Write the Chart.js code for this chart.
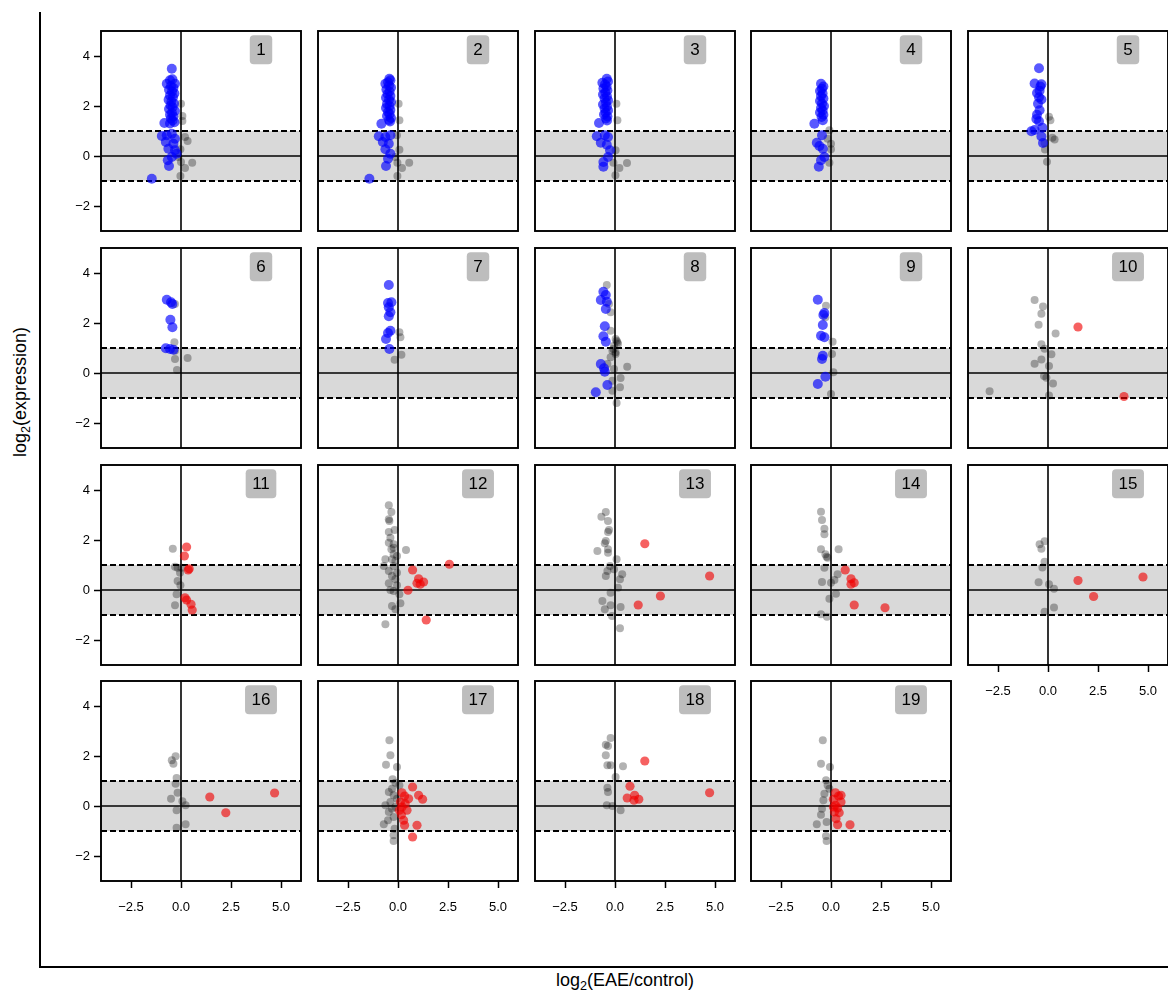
<!DOCTYPE html>
<html>
<head>
<meta charset="utf-8">
<script src="https://cdn.jsdelivr.net/npm/chart.js@4.4.1/dist/chart.umd.min.js"></script>
<style>
  html, body { margin: 0; padding: 0; background: #fff; overflow: hidden; }
  #fig { position: relative; width: 1168px; height: 990px; overflow: hidden; background: #fff;
         font-family: "Liberation Sans", Arial, Helvetica, sans-serif; color: #000; }
  #fig canvas { position: absolute; }
  .outer { position: absolute; left: 39px; top: 12px; width: 1200px; height: 956px;
           border-left: 2px solid #000; border-bottom: 2px solid #000; box-sizing: border-box; }
  .title { position: absolute; font-size: 18px; white-space: nowrap; line-height: 1; }
  .title sub { font-size: 0.7em; vertical-align: -0.3em; line-height: 0; }
  .ytitle { left: 20px; top: 392px; transform: translate(-50%, -50%) rotate(-90deg); }
  .xtitle { left: 625px; top: 980px; transform: translate(-50%, -50%); }
</style>
</head>
<body>
<div id="fig">
  <div class="outer"></div>
  <div class="title ytitle">log<sub>2</sub>(expression)</div>
  <div class="title xtitle">log<sub>2</sub>(EAE/control)</div>
</div>
<script>
// Axis ranges and ticks shared by every panel
const X_RANGE = [-4, 6];
const Y_RANGE = [-3, 5];
const X_TICKS = [-2.5, 0, 2.5, 5];
const X_TICK_LABELS = ['\u22122.5', '0.0', '2.5', '5.0'];
const Y_TICKS = [-2, 0, 2, 4];
const Y_TICK_LABELS = ['\u22122', '0', '2', '4'];
const BAND = [-1, 1];
const PANEL_LABELS = ['1','2','3','4','5','6','7','8','9','10','11','12','13','14','15','16','17','18','19'];

// Points per panel: [log2(EAE/control), log2(expression)]
const P1_BLUE = [[-0.46,3.49],[-0.55,3.03],[-0.43,3.07],[-0.71,2.89],[-0.3,2.89],[-0.5,2.8],[-0.38,2.72],[-0.6,2.65],[-0.45,2.58],[-0.33,2.5],[-0.55,2.42],[-0.4,2.35],[-0.62,2.25],[-0.48,2.18],[-0.35,2.1],[-0.52,2.02],[-0.42,1.95],[-0.6,1.88],[-0.3,1.8],[-0.45,1.72],[-0.55,1.65],[-0.38,1.58],[-0.5,1.5],[-0.42,1.42],[-0.33,1.35],[-0.55,1.3],[-0.83,1.32],[-0.96,0.8],[-0.71,0.83],[-0.46,0.89],[-0.3,0.69],[-0.76,0.56],[-0.38,0.49],[-0.63,0.29],[-0.3,0.23],[-0.46,-0.04],[-0.66,-0.17],[-0.6,-0.4],[-1.46,-0.91],[-0.22,0.09]];
const P1_GRAY = [[0,2.09],[0.07,1.6],[0.07,1.4],[0.2,0.76],[0.33,0.6],[-0.03,0.27],[0,-0.24],[0.56,-0.27],[0.2,-0.48],[-0.03,-0.8],[-0.13,-0.04]];

const P2_BLUE = [[-0.43,3.09],[-0.63,2.89],[-0.38,3.03],[-0.5,2.95],[-0.45,2.82],[-0.35,2.74],[-0.58,2.66],[-0.42,2.58],[-0.52,2.48],[-0.38,2.4],[-0.6,2.33],[-0.45,2.25],[-0.35,2.16],[-0.55,2.08],[-0.42,2.0],[-0.6,1.92],[-0.38,1.84],[-0.5,1.76],[-0.42,1.68],[-0.55,1.6],[-0.35,1.52],[-0.45,1.44],[-0.4,1.38],[-0.83,1.29],[-0.96,0.79],[-0.63,0.76],[-0.38,0.83],[-0.76,0.56],[-0.46,0.49],[-0.63,0.27],[-0.38,0.09],[-0.5,-0.11],[-0.6,-0.4],[-1.43,-0.91]];
const P2_GRAY = [[0.03,2.09],[0.07,1.43],[-0.05,0.83],[0.07,0.25],[-0.03,-0.27],[0.2,-0.48],[0.56,-0.27],[-0.03,-0.8],[-0.13,-0.04]];

const P3_BLUE = [[-0.41,3.09],[-0.63,2.93],[-0.35,2.98],[-0.5,2.86],[-0.42,2.78],[-0.58,2.7],[-0.38,2.62],[-0.48,2.54],[-0.6,2.46],[-0.4,2.38],[-0.52,2.3],[-0.35,2.22],[-0.45,2.14],[-0.6,2.06],[-0.4,1.98],[-0.52,1.9],[-0.35,1.82],[-0.47,1.74],[-0.55,1.66],[-0.38,1.58],[-0.45,1.5],[-0.4,1.42],[-0.8,1.32],[-0.91,0.79],[-0.51,0.83],[-0.35,0.76],[-0.71,0.53],[-0.41,0.45],[-0.25,0.23],[-0.35,-0.04],[-0.58,-0.24],[-0.58,-0.43]];
const P3_GRAY = [[0.07,2.09],[0.12,1.43],[0.03,0.23],[-0.08,-0.27],[0.22,-0.48],[0.6,-0.28],[0.02,-0.77]];

const P4_BLUE = [[-0.5,2.89],[-0.45,2.69],[-0.38,2.78],[-0.55,2.6],[-0.42,2.5],[-0.5,2.4],[-0.38,2.3],[-0.55,2.2],[-0.45,2.1],[-0.35,2.0],[-0.5,1.92],[-0.42,1.82],[-0.55,1.74],[-0.38,1.65],[-0.47,1.56],[-0.83,1.29],[-0.41,1.43],[-0.45,0.83],[-0.71,0.53],[-0.58,0.4],[-0.41,0.29],[-0.33,-0.04],[-0.5,-0.17],[-0.61,-0.43]];
const P4_GRAY = [[-0.08,1.03],[0,0.49],[0,0.27],[-0.08,-0.27],[-0.17,0.69]];

const P5_BLUE = [[-0.45,3.51],[-0.67,2.9],[-0.33,2.87],[-0.42,2.61],[-0.45,2.35],[-0.5,2.09],[-0.42,1.83],[-0.55,1.65],[-0.45,1.39],[-0.67,1.04],[-0.83,0.99],[-0.28,1.13],[-0.33,0.78],[-0.25,0.52],[-0.38,2.78],[-0.55,2.52],[-0.33,2.26],[-0.58,1.48]];
const P5_GRAY = [[0.05,1.57],[0.12,1.43],[0.33,0.66],[0.22,0.73],[-0.15,0.26],[-0.05,-0.23],[-0.17,0.52]];

const P6_BLUE = [[-0.71,2.93],[-0.5,2.83],[-0.43,2.76],[-0.53,2.13],[-0.43,1.83],[-0.76,0.99],[-0.55,0.96],[-0.38,0.93]];
const P6_GRAY = [[-0.33,1.23],[-0.3,2.76],[-0.3,0.89],[-0.3,0.56],[0.33,0.6],[-0.2,0.12]];

const P7_BLUE = [[-0.46,3.52],[-0.5,2.8],[-0.33,2.83],[-0.46,2.63],[-0.38,2.43],[-0.46,2.27],[-0.38,1.69],[-0.5,1.6],[-0.6,1.36],[-0.43,0.96]];
const P7_GRAY = [[0.07,1.63],[0.12,1.43],[0.17,0.73],[-0.17,0.53]];

const P8_BLUE = [[-0.58,3.25],[-0.46,3.12],[-0.71,2.92],[-0.41,2.85],[-0.46,2.56],[-0.51,1.87],[-0.58,1.47],[-0.46,1.25],[-0.71,0.36],[-0.55,0.19],[-0.51,0.05],[-0.38,-0.48],[-0.96,-0.77]];
const P8_GRAY = [[-0.41,3.52],[-0.3,2.76],[-0.22,2.43],[-0.22,1.69],[0.03,1.36],[0.12,1.23],[-0.05,1.09],[-0.13,0.89],[0.03,0.76],[-0.22,0.63],[-0.38,0.36],[-0.05,0.16],[0.61,0.25],[0.28,-0.2],[-0.13,-0.31],[0.25,-0.57],[-0.13,-0.71],[0.08,-1.2],[0.08,1.29],[0.15,1.16],[-0.08,0.96],[0.03,0.83]];

const P9_BLUE = [[-0.66,2.93],[-0.33,2.4],[-0.38,2.32],[-0.41,1.92],[-0.5,1.49],[-0.33,1.43],[-0.41,0.69],[-0.45,0.56],[-0.28,-0.15],[-0.66,-0.44]];
const P9_GRAY = [[-0.25,2.69],[-0.28,2.23],[0.08,1.25],[0.05,0.76],[0.12,0.03],[0,-0.84]];

const P10_RED = [[1.5,1.84],[3.8,-0.94]];
const P10_GRAY = [[-0.67,2.92],[-0.25,2.66],[-0.33,2.37],[-0.47,1.93],[0.38,1.58],[-0.33,1.15],[-0.17,0.97],[0.17,0.75],[-0.33,0.54],[-0.67,0.37],[0.05,0.28],[-0.2,-0.12],[-0.08,-0.19],[0.25,-0.42],[-2.92,-0.73],[0.05,-0.9]];

const P11_RED = [[0.28,1.72],[0.17,1.36],[0.41,0.85],[0.36,0.8],[0.2,-0.31],[0.28,-0.4],[0.5,-0.57],[0.56,-0.8]];
const P11_GRAY = [[-0.41,1.65],[-0.3,0.93],[-0.17,0.89],[-0.05,0.69],[-0.17,0.36],[-0.03,0.19],[-0.22,-0.17],[-0.3,-0.61],[0.03,0.89]];

const P12_RED = [[2.57,1.03],[0.73,0.8],[1.03,0.45],[1.28,0.32],[0.95,0.27],[1.11,0.23],[0.5,-0.01],[1.41,-1.2]];
const P12_GRAY = [[-0.46,3.39],[-0.33,3.12],[-0.46,2.83],[-0.43,2.76],[-0.46,2.32],[-0.38,2.09],[-0.46,1.89],[-0.22,1.83],[-0.33,1.63],[0.4,1.6],[-0.22,1.43],[-0.05,1.36],[-0.3,1.23],[-0.13,1.16],[-0.71,0.96],[-0.22,0.96],[-0.46,0.76],[-0.05,0.69],[-0.3,0.56],[-0.13,0.43],[-0.46,0.27],[-0.05,0.19],[-0.38,0],[-0.22,-0.04],[0.07,-0.17],[0.12,-0.53],[-0.3,-0.64],[-0.13,-0.77],[-0.63,-1.37],[-0.22,1.69],[-0.63,1.23],[-0.17,2.4]];

const P13_RED = [[1.49,1.85],[4.73,0.56],[2.27,-0.24],[1.16,-0.6]];
const P13_GRAY = [[-0.46,3.12],[-0.68,2.93],[-0.35,2.76],[-0.3,2.4],[-0.35,2.32],[-0.46,1.96],[-0.51,1.87],[-0.35,1.63],[-0.88,1.56],[-0.35,1.49],[0.08,1.23],[-0.25,0.96],[-0.38,0.76],[-0.46,0.56],[0.36,0.63],[0.25,0.43],[0.15,0.09],[-0.22,-0.11],[-0.63,-0.44],[-0.22,-0.61],[-0.51,-0.77],[0.28,-0.68],[-0.15,-1.04],[0.25,-1.53],[-0.05,0.83]];

const P14_RED = [[0.71,0.8],[1.0,0.45],[1.16,0.29],[1.0,0.23],[1.16,-0.6],[2.7,-0.71]];
const P14_GRAY = [[-0.5,3.13],[-0.45,2.8],[-0.33,2.45],[-0.33,2.23],[-0.5,1.63],[0.38,1.63],[-0.28,1.43],[-0.17,1.29],[-0.33,0.89],[0.33,0.63],[0.17,0.4],[-0.45,0.32],[0,0.29],[0.25,-0.15],[-0.08,-0.35],[-0.5,-0.97],[-0.2,-1.07],[-0.22,1.33]];

const P15_RED = [[1.5,0.38],[2.28,-0.26],[4.75,0.52]];
const P15_GRAY = [[-0.17,1.95],[-0.42,1.83],[-0.33,1.65],[-0.17,1.13],[-0.28,0.9],[-0.47,0.31],[0.05,0.23],[0.3,0.05],[0.3,-0.7],[-0.17,-0.87]];

const P16_RED = [[1.44,0.36],[2.24,-0.27],[4.68,0.52]];
const P16_GRAY = [[-0.27,1.99],[-0.46,1.83],[-0.38,1.69],[-0.22,1.12],[-0.27,0.89],[-0.17,0.53],[-0.5,0.29],[0.07,0.19],[0.23,0.03],[-0.22,-0.17],[0.23,-0.73],[-0.22,-0.87]];

const P17_RED = [[0.73,0.76],[0.2,0.53],[0.33,0.4],[0.12,0.16],[0.36,0.09],[0.2,-0.04],[0.45,-0.17],[0.17,-0.35],[0.28,-0.57],[1.03,0.43],[1.23,0.27],[0.95,-0.77],[0.73,-1.24],[0.07,-0.17],[0.53,0.29],[0.33,-0.77]];
const P17_GRAY = [[-0.43,2.63],[-0.38,2.03],[-0.6,1.65],[-0.05,1.56],[-0.27,1.07],[-0.13,0.93],[-0.46,0.56],[-0.22,0.43],[-0.38,0.16],[-0.13,-0.04],[-0.46,-0.24],[-0.22,-0.44],[-0.71,-0.73],[-0.5,-0.57],[-0.22,-1.17],[-0.22,-1.4],[0.07,0.83],[-0.3,0.69],[-0.05,0.29],[-0.3,-0.11],[-0.17,-0.91],[-0.63,0.03]];

const P18_RED = [[1.49,1.8],[0.75,0.79],[0.61,0.32],[0.98,0.43],[1.19,0.27],[0.95,0.23],[4.73,0.53]];
const P18_GRAY = [[-0.22,2.72],[-0.46,2.45],[-0.35,2.4],[-0.46,2.03],[-0.38,1.63],[-0.22,1.63],[0.4,1.59],[0.03,1.16],[-0.38,0.73],[-0.35,0.56],[-0.41,0.03],[-0.13,0],[0.28,-0.17]];

const P19_RED = [[0.22,0.53],[0.38,0.4],[0.12,0.27],[0.5,0.16],[0.22,0.03],[0.33,-0.08],[0.17,-0.24],[0.41,-0.27],[0.25,-0.51],[0.33,-0.75],[0.95,-0.75],[0.12,-0.04],[0.5,0.43]];
const P19_GRAY = [[-0.41,2.63],[-0.5,1.69],[-0.05,1.56],[-0.25,1.03],[-0.17,0.83],[-0.33,0.49],[-0.38,0.23],[-0.45,-0.11],[-0.5,-0.35],[-0.71,-0.73],[-0.22,-0.64],[-0.25,-1.2],[-0.22,-1.4],[-0.08,0.69]];

// Highlighted group and background group for each panel, in panel order
const HIGHLIGHT = [P1_BLUE, P2_BLUE, P3_BLUE, P4_BLUE, P5_BLUE, P6_BLUE, P7_BLUE, P8_BLUE, P9_BLUE,
                   P10_RED, P11_RED, P12_RED, P13_RED, P14_RED, P15_RED, P16_RED, P17_RED, P18_RED, P19_RED];
const BACKGROUND = [P1_GRAY, P2_GRAY, P3_GRAY, P4_GRAY, P5_GRAY, P6_GRAY, P7_GRAY, P8_GRAY, P9_GRAY,
                    P10_GRAY, P11_GRAY, P12_GRAY, P13_GRAY, P14_GRAY, P15_GRAY, P16_GRAY, P17_GRAY, P18_GRAY, P19_GRAY];
const DOWN_PANELS = 9; // the first nine panels use the blue group

// Grid placement of the panels (plot-area top-left corners, 200x200 each)
const COL_LEFT = [101, 318, 535, 751, 968];
const ROW_TOP = [31, 248, 465, 681];
const PLOT = 200, PAD_L = 45, PAD_T = 5, PAD_R = 5, PAD_B = 35;
const FONT = '"Liberation Sans", Arial, Helvetica, sans-serif';

// Keep every plot area at exactly 200x200, whatever its tick labels need
function fixScale(s, size) {
  if (s.isHorizontal()) { s.height = size; } else { s.width = size; }
  s.paddingTop = 0; s.paddingBottom = 0; s.paddingLeft = 0; s.paddingRight = 0;
}

// Shaded band, reference lines, frame and panel number badge
const panelDecor = {
  id: 'panelDecor',
  beforeDatasetsDraw(chart) {
    const { ctx, chartArea: a, scales: { x, y } } = chart;
    const line = (x1, y1, x2, y2) => { ctx.beginPath(); ctx.moveTo(x1, y1); ctx.lineTo(x2, y2); ctx.stroke(); };
    ctx.save();
    const yHi = y.getPixelForValue(BAND[1]), yLo = y.getPixelForValue(BAND[0]);
    ctx.fillStyle = '#d9d9d9';
    ctx.fillRect(a.left, yHi, a.right - a.left, yLo - yHi);
    ctx.strokeStyle = '#000';
    ctx.lineWidth = 1.8;
    ctx.setLineDash([6, 3]);
    BAND.forEach(v => { const p = y.getPixelForValue(v); line(a.left, p, a.right, p); });
    ctx.setLineDash([]);
    ctx.lineWidth = 1.6;
    const y0 = y.getPixelForValue(0), x0 = x.getPixelForValue(0);
    line(a.left, y0, a.right, y0);
    line(x0, a.top, x0, a.bottom);
    ctx.restore();
  },
  afterDatasetsDraw(chart, args, opts) {
    const { ctx, chartArea: a, scales: { x, y } } = chart;
    ctx.save();
    ctx.strokeStyle = '#000';
    ctx.lineWidth = 1.9;
    ctx.strokeRect(a.left, a.top, a.right - a.left, a.bottom - a.top);
    // number badge
    const cx = x.getPixelForValue(4), cy = y.getPixelForValue(4.25);
    ctx.font = '17px ' + FONT;
    const w = ctx.measureText(opts.label).width + 13, h = 29;
    ctx.fillStyle = '#bdbdbd';
    ctx.beginPath();
    ctx.roundRect(cx - w / 2, cy - h / 2, w, h, 4);
    ctx.fill();
    ctx.fillStyle = '#000';
    ctx.textAlign = 'center';
    ctx.textBaseline = 'middle';
    ctx.fillText(opts.label, cx, cy + 1);
    ctx.restore();
  }
};

const fig = document.getElementById('fig');
PANEL_LABELS.forEach((label, k) => {
  const row = Math.floor(k / 5), col = k % 5;
  const showY = col === 0;
  const showX = row === 3 || k === 14;
  const canvas = document.createElement('canvas');
  canvas.width = PAD_L + PLOT + PAD_R;
  canvas.height = PAD_T + PLOT + PAD_B;
  canvas.style.left = (COL_LEFT[col] - PAD_L) + 'px';
  canvas.style.top = (ROW_TOP[row] - PAD_T) + 'px';
  fig.appendChild(canvas);

  const isDown = k < DOWN_PANELS;
  new Chart(canvas, {
    type: 'scatter',
    data: {
      datasets: [
        { data: HIGHLIGHT[k].map(([x, y]) => ({ x, y })),
          backgroundColor: isDown ? 'rgba(0,0,255,0.65)' : 'rgba(240,0,0,0.62)',
          pointRadius: isDown ? 5 : 4.6, pointHoverRadius: 5, borderWidth: 0, order: 0 },
        { data: BACKGROUND[k].map(([x, y]) => ({ x, y })),
          backgroundColor: 'rgba(0,0,0,0.3)',
          pointRadius: 4, pointHoverRadius: 4, borderWidth: 0, order: 1 }
      ]
    },
    options: {
      responsive: false,
      animation: false,
      events: [],
      layout: { padding: { left: 0, top: PAD_T, right: PAD_R, bottom: 0 } },
      plugins: { legend: { display: false }, tooltip: { enabled: false }, panelDecor: { label } },
      scales: {
        x: {
          type: 'linear', position: 'bottom', min: X_RANGE[0], max: X_RANGE[1],
          afterBuildTicks: s => { s.ticks = X_TICKS.map(v => ({ value: v })); },
          afterFit: s => fixScale(s, PAD_B),
          border: { display: false },
          grid: { display: showX, drawOnChartArea: false, drawTicks: true, tickLength: 7, tickWidth: 1.5, tickColor: '#000' },
          ticks: { display: showX, padding: 12, color: '#000', autoSkip: false, maxRotation: 0,
                   font: { family: FONT, size: 13 }, callback: (v, i) => X_TICK_LABELS[i] }
        },
        y: {
          type: 'linear', position: 'left', min: Y_RANGE[0], max: Y_RANGE[1],
          afterBuildTicks: s => { s.ticks = Y_TICKS.map(v => ({ value: v })); },
          afterFit: s => fixScale(s, PAD_L),
          border: { display: false },
          grid: { display: showY, drawOnChartArea: false, drawTicks: true, tickLength: 7, tickWidth: 1.5, tickColor: '#000' },
          ticks: { display: showY, padding: 4, color: '#000', autoSkip: false,
                   font: { family: FONT, size: 13 }, callback: (v, i) => Y_TICK_LABELS[i] }
        }
      }
    },
    plugins: [panelDecor]
  });
});
</script>
</body>
</html>
